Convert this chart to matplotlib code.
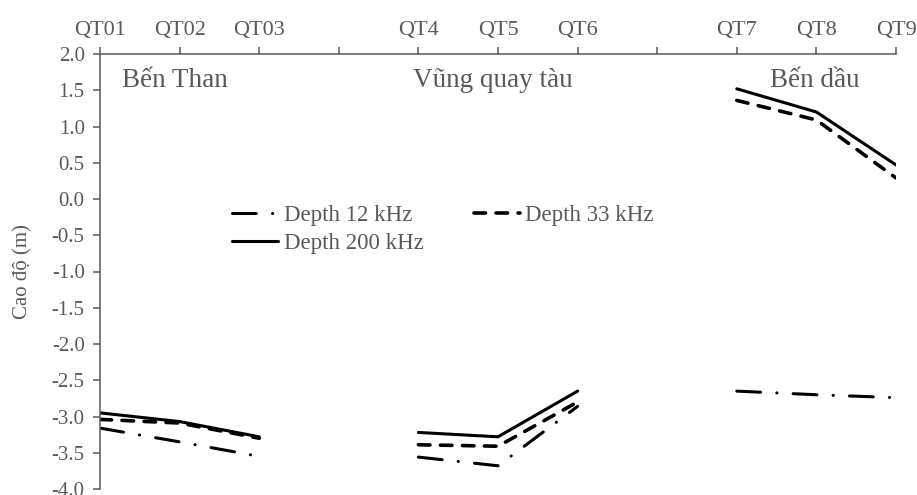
import matplotlib
matplotlib.use("Agg")
import matplotlib.pyplot as plt

# Catégories (deux positions vides séparent les trois zones)
categories = ["QT01", "QT02", "QT03", "", "QT4", "QT5", "QT6", "", "QT7", "QT8", "QT9"]
zones = ["Bến Than", "Vũng quay tàu", "Bến dầu"]
zone_idx = [[0, 1, 2], [4, 5, 6], [8, 9, 10]]

# Cao độ (m) par zone
depth_12 = [[-3.16, -3.35, -3.55], [-3.56, -3.68, -2.86], [-2.65, -2.70, -2.74]]
depth_33 = [[-3.04, -3.09, -3.30], [-3.39, -3.41, -2.80], [1.36, 1.09, 0.29]]
depth_200 = [[-2.95, -3.07, -3.28], [-3.22, -3.28, -2.65], [1.52, 1.20, 0.47]]

GRAY = "#595959"
plt.rcParams["font.family"] = ["Liberation Serif", "DejaVu Serif"]

fig = plt.figure(figsize=(9.17, 4.95), dpi=100)
ax = fig.add_axes([100 / 917, 1 - 489 / 495, 796 / 917, 435 / 495])

styles = {
    "12": dict(color="black", lw=2.2, dashes=(7.8, 5.3, 0.05, 5.3), dash_capstyle="round"),
    "33": dict(color="black", lw=2.6, dashes=(3.2, 2.9), dash_capstyle="round"),
    "200": dict(color="black", lw=2.2, solid_capstyle="round"),
}

handles = {}
for i, idx in enumerate(zone_idx):
    h12, = ax.plot(idx, depth_12[i], **styles["12"])
    h33, = ax.plot(idx, depth_33[i], **styles["33"])
    h200, = ax.plot(idx, depth_200[i], **styles["200"])
    handles = {"12": h12, "33": h33, "200": h200}

ax.set_xlim(0, len(categories) - 1)
ax.set_ylim(-4.0, 2.0)
ax.set_xticks(range(len(categories)))
ax.set_xticklabels(categories)
ax.xaxis.tick_top()
ax.set_yticks([-4 + 0.5 * k for k in range(13)])
ax.set_yticklabels([f"{-4 + 0.5 * k:.1f}" for k in range(13)])

for s in ["right", "bottom"]:
    ax.spines[s].set_visible(False)
for s in ["top", "left"]:
    ax.spines[s].set_color(GRAY)
    ax.spines[s].set_linewidth(1.1)
ax.tick_params(axis="both", colors=GRAY, labelcolor=GRAY, labelsize=15,
               direction="out", length=5, width=1.1)
ax.tick_params(axis="x", labelsize=16, pad=5)
ax.tick_params(axis="y", pad=6)

ax.set_ylabel("Cao độ (m)", color=GRAY, fontsize=15, labelpad=14)

zone_x = [0.94, 4.93, 8.98]
for name, x in zip(zones, zone_x):
    ax.text(x, 1.55, name, ha="center", va="baseline", fontsize=19.5, color=GRAY)

leg = fig.legend([handles["12"], handles["200"], handles["33"]],
                 ["Depth 12 kHz", "Depth 200 kHz", "Depth 33 kHz"],
                 ncol=2, loc="upper left", bbox_to_anchor=(232 / 917, 1 - 205 / 495),
                 frameon=False, fontsize=16.5, handlelength=2.0, handletextpad=0.25,
                 columnspacing=2.2, labelspacing=0.3, borderpad=0, borderaxespad=0)
for t in leg.get_texts():
    t.set_color(GRAY)

fig.savefig("out.png", dpi=100)
